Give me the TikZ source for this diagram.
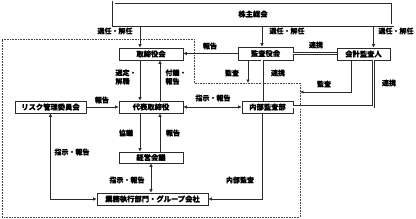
\documentclass[tikz,border=0pt]{standalone}
\usepackage{fontspec}
\newfontfamily\jpfont[FakeBold=0.4]{Noto Sans CJK JP}
\usetikzlibrary{arrows.meta,calc}
\definecolor{orgline}{HTML}{2B2B2B}
\definecolor{orgdot}{HTML}{444444}

\begin{document}
\begin{tikzpicture}[
  x=1pt, y=-1pt,
  font=\jpfont\bfseries\fontsize{7.3}{9}\selectfont,
  box/.style={draw=orgline, fill=white, line width=0.8pt, inner sep=0pt, minimum height=12pt},
  arrow/.style={-{Latex[length=3.4pt,width=3.4pt]}, line width=0.8pt, orgline},
  twoway/.style={{Latex[length=3.4pt,width=3.4pt]}-{Latex[length=3.4pt,width=3.4pt]}, line width=0.8pt, orgline},
  link/.style={double=white, double distance=1.6pt, line width=0.7pt, draw=orgline},
  region/.style={dash pattern=on 0.8pt off 0.8pt, line width=0.6pt, orgdot},
  lbl/.style={inner sep=0pt, font=\jpfont\bfseries\fontsize{7}{8.5}\selectfont}
]
\useasboundingbox (0,0) rectangle (416,219);
% supervised area
\draw[region] (2,39) -| (194,83) -| (300,217) -- (2,217) -- cycle;

% boxes
\node[box, double=white, double distance=2pt, line width=0.7pt, minimum width=279pt, minimum height=23pt] (kabu) at (253,14) {株主総会};
\node[box, minimum width=64pt] (tori) at (151,54) {取締役会};
\node[box, minimum width=55pt, minimum height=13pt] (kansa) at (265.5,53.5) {監査役会};
\node[box, minimum width=53pt] (kaikei) at (363.5,54) {会計監査人};
\node[box, minimum width=71pt] (risk) at (50.5,107) {リスク管理委員会};
\node[box, minimum width=64pt] (daihyo) at (151,107) {代表取締役};
\node[box, minimum width=51pt] (naibu) at (267.5,107) {内部監査部};
\node[box, minimum width=64pt, minimum height=11pt] (keiei) at (151,157.5) {経営会議};
\node[box, minimum width=111pt] (gyomu) at (152.5,199) {業務執行部門・グループ会社};

% lanes and ends
\coordinate (lanea) at (140,0);
\coordinate (laneb) at (160,0);
\coordinate (lanec) at (262,0);
\coordinate (laned) at (248,0);
\coordinate (lanee) at (351,0);
\coordinate (lanef) at (373.5,0);
\coordinate (auditin) at (248,83);
\coordinate (auditout) at (300,92);

% shareholders
\draw[arrow] (kabu.south -| lanea) -- (tori.north -| lanea);
\draw[arrow] (kabu.south -| lanec) -- (kansa.north -| lanec);
\draw[arrow] (kabu.south -| lanef) -- (kaikei.north -| lanef);
\node[lbl] (sel1) at (115,31) {選任・解任};
\node[lbl] (sel2) at (287,31) {選任・解任};
\node[lbl] (sel3) at (396,31) {選任・解任};

% auditors
\draw[arrow] (kansa.west) -- (kansa.west -| tori.east);
\node[lbl] (rep1) at (210,46) {報告};
\draw[link] (kansa.east) -- (kansa.east -| kaikei.west);
\node[lbl] (coop1) at (316,45) {連携};
\draw[arrow] (kansa.south -| laned) -- (auditin);
\node[lbl] (aud1) at (232,73) {監査};
\draw[link] (kansa.south -| lanec) -- (naibu.north -| lanec);
\node[lbl] (coop2) at (278,73) {連携};
\draw[arrow] (kaikei.south -| lanee) |- (auditout);
\node[lbl] (aud2) at (324,84) {監査};
\draw[link] (kaikei.south -| lanef) |- (naibu.east);
\node[lbl] (coop3) at (389,83) {連携};

% board and president
\draw[arrow] (tori.south -| lanea) -- (daihyo.north -| lanea);
\node[lbl, align=left] (appoint) at (126,77) {選定・\\解職};
\draw[arrow] (daihyo.north -| laneb) -- (tori.south -| laneb);
\node[lbl, align=left] (submit) at (176,77) {付議・\\報告};
\draw[arrow] (risk.east) -- (daihyo.west);
\node[lbl] (rep2) at (102,100) {報告};
\draw[twoway] (daihyo.east) -- (naibu.west);
\node[lbl] (inst1) at (213,98) {指示・報告};

% management
\draw[arrow] (daihyo.south -| lanea) -- (keiei.north -| lanea);
\node[lbl] (talk) at (126,133) {協議};
\draw[arrow] (keiei.north -| laneb) -- (daihyo.south -| laneb);
\node[lbl] (rep3) at (173,133) {報告};
\draw[twoway] (keiei.south) -- (gyomu.north -| keiei);
\node[lbl] (inst2) at (127,180) {指示・報告};
\draw[twoway] (risk.south) |- (gyomu.west);
\node[lbl] (inst3) at (72,152) {指示・報告};
\draw[arrow] (naibu.south -| lanec) |- (gyomu.east);
\node[lbl] (aud3) at (240,180) {内部監査};
\end{tikzpicture}
\end{document}
